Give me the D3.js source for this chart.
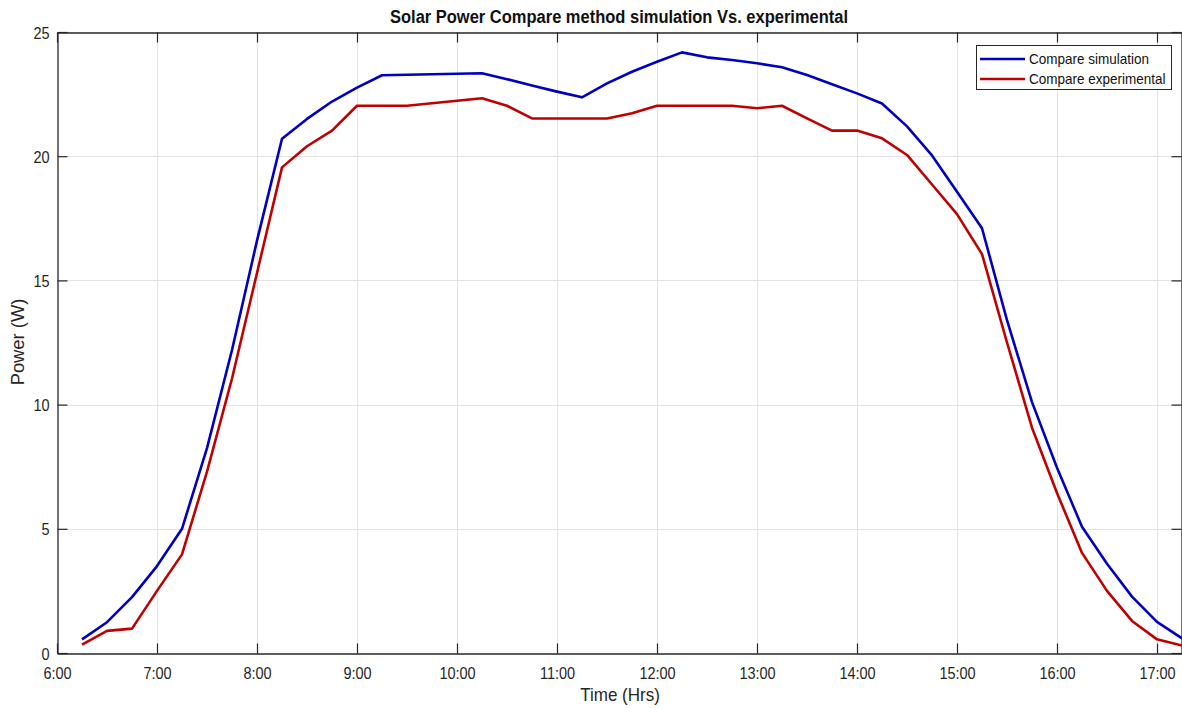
<!DOCTYPE html>
<html>
<head>
<meta charset="utf-8">
<script src="https://cdn.jsdelivr.net/npm/d3@7"></script>
<style>
  html, body { margin: 0; padding: 0; background: #fff; }
  svg { display: block; font-family: "Liberation Sans", Arial, Helvetica, sans-serif; }
</style>
</head>
<body>
<svg id="chart" width="1182" height="708"></svg>
<script>
// Sample times in hours (every 15 minutes, 6:15 to 17:15)
const times = [
  6.25, 6.5, 6.75, 7, 7.25, 7.5, 7.75, 8, 8.25, 8.5, 8.75, 9,
  9.25, 9.5, 9.75, 10, 10.25, 10.5, 10.75, 11, 11.25, 11.5, 11.75, 12,
  12.25, 12.5, 12.75, 13, 13.25, 13.5, 13.75, 14, 14.25, 14.5, 14.75, 15,
  15.25, 15.5, 15.75, 16, 16.25, 16.5, 16.75, 17, 17.25
];

// Simulated power (W)
const simulation = [
  0.55, 1.24, 2.25, 3.5, 5.0, 8.25, 12.2, 16.6, 20.7, 21.5, 22.2, 22.76,
  23.26, 23.28, 23.3, 23.32, 23.34, 23.1, 22.85, 22.6, 22.37, 22.93, 23.4, 23.8,
  24.18, 23.98, 23.87, 23.74, 23.58, 23.27, 22.9, 22.53, 22.12, 21.2, 20.03, 18.57,
  17.1, 13.4, 10.1, 7.46, 5.08, 3.59, 2.27, 1.25, 0.59
];

// Experimental power (W)
const experimental = [
  0.34, 0.89, 0.98, 2.5, 3.97, 7.3, 11.05, 15.3, 19.55, 20.4, 21.03, 22.03,
  22.03, 22.03, 22.13, 22.23, 22.33, 22.03, 21.52, 21.52, 21.52, 21.52, 21.73, 22.03,
  22.03, 22.03, 22.03, 21.93, 22.03, 21.52, 21.03, 21.03, 20.72, 20.05, 18.86, 17.67,
  16.06, 12.5, 9.07, 6.44, 4.03, 2.5, 1.29, 0.55, 0.3
];

const xTicks = [6, 7, 8, 9, 10, 11, 12, 13, 14, 15, 16, 17];
const xTickLabels = ["6:00", "7:00", "8:00", "9:00", "10:00", "11:00", "12:00", "13:00", "14:00", "15:00", "16:00", "17:00"];
const yTicks = [0, 5, 10, 15, 20, 25];

const seriesNames = ["Compare simulation", "Compare experimental"];
const seriesColors = ["#0000c0", "#c00000"];

const svg = d3.select("#chart");
const m = { left: 57, top: 32, right: 1182, bottom: 653 };

const x = d3.scaleLinear().domain([6, 17.25]).range([m.left, m.right]);
const y = d3.scaleLinear().domain([0, 25]).range([m.bottom, m.top]);

// Grid
const grid = svg.append("g").attr("stroke", "#e3e3e3").attr("stroke-width", 1);
grid.selectAll(".gx").data(xTicks.slice(1)).join("line")
  .attr("x1", d => Math.round(x(d)) + 0.5).attr("x2", d => Math.round(x(d)) + 0.5)
  .attr("y1", m.top).attr("y2", m.bottom);
grid.selectAll(".gy").data(yTicks.slice(1, -1)).join("line")
  .attr("y1", d => Math.round(y(d)) + 0.5).attr("y2", d => Math.round(y(d)) + 0.5)
  .attr("x1", m.left).attr("x2", m.right);

// Axes (ticks point inward, box style)
const tickLen = 10;
const axisColor = "#262626";
const tickFmt = d => xTickLabels[xTicks.indexOf(d)];

const xAxisB = svg.append("g").attr("transform", `translate(0,${m.bottom + 0.5})`)
  .call(d3.axisBottom(x).tickValues(xTicks).tickFormat(tickFmt).tickSizeInner(-tickLen).tickSizeOuter(0));
const xAxisT = svg.append("g").attr("transform", `translate(0,${m.top + 0.5})`)
  .call(d3.axisTop(x).tickValues(xTicks).tickFormat("").tickSizeInner(-tickLen).tickSizeOuter(0));
const yAxisL = svg.append("g").attr("transform", `translate(${m.left + 0.5},0)`)
  .call(d3.axisLeft(y).tickValues(yTicks).tickSizeInner(-tickLen).tickSizeOuter(0));
const yAxisR = svg.append("g").attr("transform", `translate(${m.right - 0.5},0)`)
  .call(d3.axisRight(y).tickValues(yTicks).tickFormat("").tickSizeInner(-tickLen).tickSizeOuter(0));

[xAxisB, xAxisT, yAxisL, yAxisR].forEach(a => {
  a.select(".domain").attr("stroke", axisColor).attr("stroke-width", 1.3);
  a.selectAll(".tick line").attr("stroke", axisColor).attr("stroke-width", 1.2);
  a.selectAll(".tick text").attr("fill", "#262626").attr("font-size", 14.5)
    .attr("font-family", "Liberation Sans, Arial, sans-serif");
});
// Slightly taller glyphs for tick labels
xAxisB.selectAll(".tick text").attr("y", null).attr("dy", null)
  .attr("transform", "translate(0,679) scale(1,1.2)").attr("y", 0)
  .attr("transform", function () { return "translate(0,25.5) scale(1,1.2)"; });
yAxisL.selectAll(".tick text").attr("x", null).attr("dy", null)
  .attr("text-anchor", "end")
  .attr("transform", "translate(-8,6) scale(1,1.2)");

// Lines
const line = d3.line().x(d => x(d[0])).y(d => y(d[1]));
const allSeries = [simulation, experimental];
svg.append("g").selectAll("path").data(allSeries).join("path")
  .attr("d", vals => line(times.map((t, i) => [t, vals[i]])))
  .attr("fill", "none")
  .attr("stroke", (d, i) => seriesColors[i])
  .attr("stroke-width", 2.6)
  .attr("stroke-linejoin", "round");

// Title and axis labels
svg.append("text").attr("transform", "translate(619,23) scale(1,1.1)").attr("text-anchor", "middle")
  .attr("font-size", 16.5).attr("font-weight", "bold").attr("fill", "#111")
  .text("Solar Power Compare method simulation Vs. experimental");
svg.append("text").attr("transform", "translate(620,701) scale(1,1.1)").attr("text-anchor", "middle")
  .attr("font-size", 17).attr("fill", "#262626").text("Time (Hrs)");
svg.append("text").attr("transform", "translate(24,342) rotate(-90) scale(1.05,1.1)").attr("text-anchor", "middle")
  .attr("font-size", 17.5).attr("fill", "#262626").text("Power (W)");

// Legend
const lg = svg.append("g").attr("transform", "translate(976,45)");
lg.append("rect").attr("x", 0.5).attr("y", 0.5).attr("width", 195).attr("height", 44)
  .attr("fill", "#fff").attr("stroke", "#262626").attr("stroke-width", 1);
seriesNames.forEach((name, i) => {
  const yy = 14 + i * 20;
  lg.append("line").attr("x1", 4).attr("x2", 49).attr("y1", yy).attr("y2", yy)
    .attr("stroke", seriesColors[i]).attr("stroke-width", 2.6);
  lg.append("text").attr("transform", `translate(53,${yy + 5}) scale(1,1.15)`)
    .attr("font-size", 13.5).attr("fill", "#111").text(name);
});
</script>
</body>
</html>
